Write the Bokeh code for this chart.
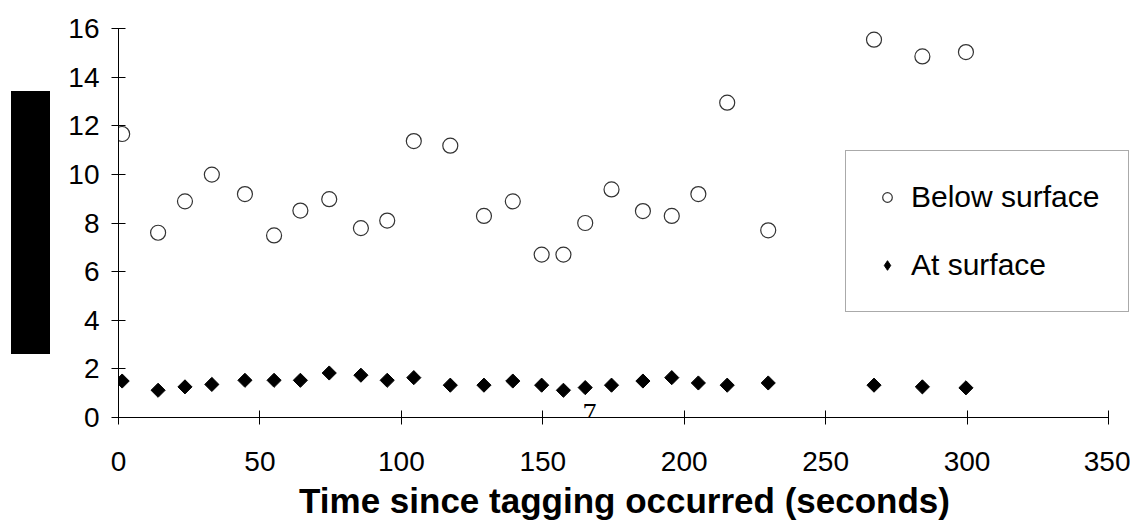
import math
from bokeh.plotting import figure
from bokeh.layouts import row
from bokeh.models import Range1d, Legend, LegendItem, Label, Div, FixedTicker
from bokeh.embed import file_html
from bokeh.resources import INLINE

# ---- data ----
time_s = [1.3, 14.0, 23.5, 33.0, 44.7, 55.0, 64.3, 74.5, 85.7, 95.0, 104.4, 117.3, 129.2,
          139.4, 149.6, 157.3, 165.0, 174.3, 185.4, 195.6, 205.0, 215.2, 229.7, 267.1, 284.2, 299.6]
below_surface = [11.66, 7.60, 8.89, 9.99, 9.19, 7.49, 8.51, 8.98, 7.79, 8.10, 11.37, 11.18, 8.29,
                 8.89, 6.70, 6.70, 8.00, 9.38, 8.49, 8.29, 9.19, 12.95, 7.70, 15.54, 14.85, 15.03]
at_surface = [1.50, 1.12, 1.26, 1.36, 1.53, 1.53, 1.53, 1.83, 1.74, 1.53, 1.64, 1.33, 1.33,
              1.50, 1.33, 1.12, 1.23, 1.33, 1.50, 1.64, 1.42, 1.33, 1.42, 1.33, 1.26, 1.22]
x_ticks = [0, 50, 100, 150, 200, 250, 300, 350]
y_ticks = [0, 2, 4, 6, 8, 10, 12, 14, 16]
x_axis_max = 350
y_axis_max = 16
series_names = ["Below surface", "At surface"]
x_title = "Time since tagging occurred (seconds)"
stray_text = "7"
stray_pos = (166.5, 0.2)

FONT = "Liberation Sans"

# frame extends a little past 350 so the legend box is not clipped; the axis stops at 350
p = figure(width=1080, height=523, output_backend="svg", toolbar_location=None,
           x_range=Range1d(0, x_axis_max * 1012 / 990), y_range=Range1d(0, y_axis_max),
           min_border_left=68, min_border_right=0, min_border_top=28, min_border_bottom=106)
p.outline_line_color = None
p.xgrid.grid_line_color = None
p.ygrid.grid_line_color = None
p.background_fill_color = "white"
p.border_fill_color = "white"

for ax in (p.xaxis[0], p.yaxis[0]):
    ax.axis_line_color = "black"
    ax.axis_line_width = 1
    ax.major_tick_line_color = "black"
    ax.major_tick_in = 7
    ax.major_tick_out = 7
    ax.minor_tick_line_color = None
    ax.major_label_text_font = FONT
    ax.major_label_text_font_size = "28px"
    ax.major_label_text_color = "black"

p.xaxis.bounds = (0, x_axis_max)
p.xaxis.ticker = FixedTicker(ticks=x_ticks)
p.yaxis.ticker = FixedTicker(ticks=y_ticks)
p.xaxis.major_label_standoff = 27
p.yaxis.major_label_standoff = 12
p.xaxis.axis_label = x_title
p.xaxis.axis_label_text_font = FONT
p.xaxis.axis_label_text_font_style = "bold"
p.xaxis.axis_label_text_font_size = "35px"
p.xaxis.axis_label_text_color = "black"
p.xaxis.axis_label_standoff = 7

# legend key proxy (diamond), hidden under the rotated squares
r_at_key = p.scatter(time_s, at_surface, marker="diamond", size=11,
                     fill_color="black", line_color="black")
r_below = p.scatter(time_s, below_surface, marker="circle", size=15,
                    fill_color="white", line_color="#333333", line_width=1.2)
r_at = p.scatter(time_s, at_surface, marker="square", size=10, angle=math.pi / 4,
                 fill_color="black", line_color="black", line_width=1)

legend = Legend(items=[LegendItem(label=series_names[0], renderers=[r_below]),
                       LegendItem(label=series_names[1], renderers=[r_at_key])],
                location=(727, 105))
legend.label_text_font = FONT
legend.label_text_font_size = "30px"
legend.label_text_color = "black"
legend.glyph_width = 24
legend.glyph_height = 26
legend.label_standoff = 12
legend.label_height = 30
legend.padding = 29
legend.spacing = 34
legend.margin = 0
legend.border_line_color = "#555555"
legend.border_line_width = 1
legend.background_fill_color = "white"
legend.background_fill_alpha = 1
p.add_layout(legend, "center")

p.add_layout(Label(x=stray_pos[0], y=stray_pos[1], text=stray_text, text_align="center",
                   text_baseline="middle", text_font="Liberation Serif",
                   text_font_size="28px", text_color="black"))

# black block in place of the y axis title
block = Div(text="", width=39, height=263, margin=(91, 0, 0, 11),
            styles={"background-color": "black"})

layout = row(block, p, spacing=0)
open("out.html", "w").write(file_html(layout, INLINE))
